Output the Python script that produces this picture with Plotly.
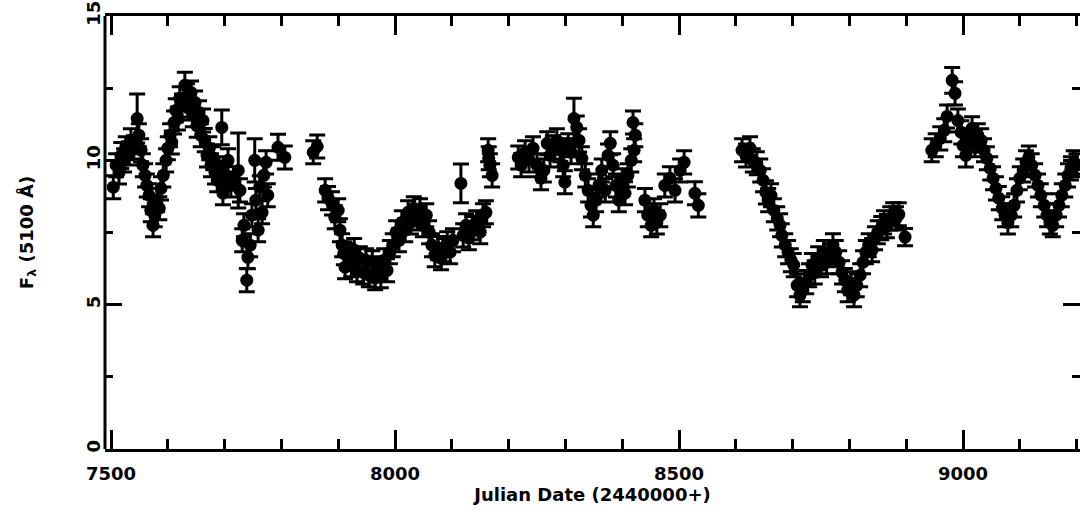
import plotly.graph_objects as go

# Season 1 (JD - 2440000)
jd_1 = [7504, 7509, 7514, 7518, 7523, 7526, 7532, 7535, 7540, 7546,
        7549, 7553, 7556, 7560, 7563, 7567, 7570, 7574, 7577, 7581,
        7585, 7588, 7592, 7597, 7600, 7604, 7607, 7611, 7614, 7618,
        7621, 7625, 7630, 7634, 7637, 7641, 7644, 7648, 7651, 7655,
        7658, 7662, 7665, 7669, 7673, 7676, 7680, 7683, 7687, 7690,
        7695, 7697, 7701, 7706, 7711, 7717, 7724, 7727, 7731, 7734,
        7739, 7741, 7745, 7748, 7753, 7755, 7759, 7762, 7766, 7769,
        7773, 7776, 7794, 7806]
flux_1 = [9.07, 9.83, 9.58, 10.17, 10.00, 10.42, 10.24, 10.69, 10.45, 11.45,
          10.87, 10.35, 9.83, 9.48, 9.13, 8.79, 8.27, 7.75, 8.10, 8.62,
          8.34, 9.03, 9.48, 10.00, 10.42, 10.87, 10.62, 11.31, 11.73, 11.45,
          12.15, 11.90, 12.60, 12.25, 11.80, 12.35, 11.56, 12.00, 11.20, 11.66,
          10.87, 11.38, 10.70, 10.17, 10.42, 9.83, 10.07, 9.58, 9.31, 9.72,
          11.14, 8.86, 9.48, 10.00, 9.13, 9.38, 9.65, 8.96, 7.23, 7.75,
          5.85, 6.64, 7.06, 8.10, 10.00, 8.62, 7.58, 9.07, 8.20, 9.48,
          9.93, 8.79, 10.45, 10.10]
err_1 = [0.40, 0.40, 0.40, 0.45, 0.40, 0.40, 0.40, 0.40, 0.40, 0.85,
         0.40, 0.40, 0.40, 0.40, 0.40, 0.40, 0.40, 0.40, 0.40, 0.40,
         0.40, 0.40, 0.40, 0.40, 0.40, 0.40, 0.40, 0.40, 0.40, 0.40,
         0.40, 0.40, 0.45, 0.40, 0.40, 0.40, 0.40, 0.40, 0.40, 0.40,
         0.40, 0.40, 0.40, 0.40, 0.40, 0.40, 0.40, 0.40, 0.40, 0.40,
         0.60, 0.40, 0.40, 0.40, 0.40, 0.40, 1.30, 0.40, 0.40, 0.40,
         0.40, 0.40, 0.40, 0.40, 0.75, 0.40, 0.40, 0.40, 0.40, 0.40,
         0.40, 0.40, 0.45, 0.40]

# Season 2
jd_2 = [7856, 7863, 7877, 7882, 7889, 7894, 7900, 7903, 7907, 7910,
        7912, 7917, 7923, 7928, 7933, 7938, 7944, 7949, 7954, 7960,
        7965, 7970, 7975, 7981, 7986, 7991, 7996, 8002, 8007, 8012,
        8018, 8023, 8028, 8033, 8039, 8044, 8049, 8055, 8060, 8065,
        8070, 8076, 8081, 8086, 8092, 8097, 8102, 8116, 8120, 8125,
        8130, 8136, 8143, 8150, 8155, 8160, 8164, 8165, 8167, 8171]
flux_2 = [10.28, 10.48, 8.96, 8.69, 8.51, 8.03, 8.27, 7.58, 7.06, 6.78,
          6.30, 6.71, 6.37, 6.89, 6.19, 6.61, 6.12, 6.54, 6.02, 6.47,
          5.92, 6.26, 5.99, 6.54, 6.19, 6.82, 7.06, 7.51, 7.23, 7.85,
          7.58, 8.20, 7.85, 8.34, 7.99, 8.27, 7.75, 8.10, 7.51, 7.06,
          6.71, 6.96, 6.61, 6.89, 7.13, 6.82, 7.23, 9.20, 7.40, 7.75,
          7.30, 7.65, 7.85, 7.51, 8.10, 8.20, 10.35, 10.07, 9.83, 9.48]
err_2 = [0.40, 0.40, 0.40, 0.40, 0.40, 0.40, 0.40, 0.40, 0.40, 0.40,
         0.40, 0.40, 0.40, 0.40, 0.40, 0.40, 0.40, 0.40, 0.40, 0.40,
         0.40, 0.40, 0.40, 0.40, 0.40, 0.40, 0.40, 0.40, 0.40, 0.40,
         0.40, 0.40, 0.40, 0.40, 0.40, 0.40, 0.40, 0.40, 0.40, 0.40,
         0.40, 0.40, 0.40, 0.40, 0.40, 0.40, 0.40, 0.67, 0.40, 0.40,
         0.40, 0.40, 0.40, 0.40, 0.40, 0.40, 0.40, 0.40, 0.40, 0.40]

# Season 3
jd_3 = [8217, 8222, 8229, 8236, 8243, 8250, 8257, 8262, 8268, 8273,
        8278, 8285, 8291, 8296, 8299, 8305, 8310, 8315, 8320, 8324,
        8329, 8335, 8340, 8345, 8349, 8354, 8359, 8364, 8370, 8375,
        8379, 8384, 8389, 8394, 8400, 8405, 8410, 8416, 8419, 8421,
        8423, 8440, 8445, 8451, 8456, 8461, 8467, 8475, 8484, 8493,
        8502, 8509, 8528, 8534]
flux_3 = [10.10, 9.83, 10.28, 10.00, 10.42, 9.83, 9.38, 9.65, 10.59, 10.17,
          10.45, 10.69, 10.35, 9.83, 9.24, 10.52, 10.28, 11.45, 11.14, 10.69,
          10.07, 9.48, 8.96, 8.44, 8.10, 8.62, 9.13, 9.65, 8.96, 10.17,
          10.59, 9.83, 9.13, 8.62, 9.31, 8.86, 9.48, 10.00, 11.31, 10.35,
          10.87, 8.62, 8.10, 7.75, 8.27, 7.85, 8.10, 9.13, 9.38, 8.96,
          9.65, 9.93, 8.86, 8.44]
err_3 = [0.40, 0.40, 0.40, 0.40, 0.40, 0.40, 0.40, 0.40, 0.40, 0.40,
         0.40, 0.40, 0.40, 0.40, 0.40, 0.40, 0.40, 0.70, 0.40, 0.40,
         0.40, 0.40, 0.40, 0.40, 0.40, 0.40, 0.40, 0.40, 0.40, 0.40,
         0.40, 0.40, 0.40, 0.40, 0.40, 0.40, 0.40, 0.40, 0.40, 0.40,
         0.40, 0.40, 0.40, 0.40, 0.40, 0.40, 0.40, 0.40, 0.40, 0.40,
         0.40, 0.40, 0.40, 0.40]

# Season 4
jd_4 = [8611, 8618, 8625, 8630, 8637, 8643, 8648, 8653, 8657, 8662,
        8667, 8673, 8678, 8681, 8687, 8692, 8697, 8702, 8708, 8713,
        8718, 8724, 8729, 8734, 8739, 8745, 8750, 8755, 8760, 8766,
        8771, 8776, 8782, 8787, 8792, 8797, 8803, 8808, 8813, 8819,
        8824, 8829, 8834, 8840, 8845, 8850, 8856, 8861, 8866, 8872,
        8877, 8882, 8887, 8898]
flux_4 = [10.35, 10.17, 10.42, 10.00, 9.90, 9.65, 9.31, 8.89, 8.62, 8.79,
          8.27, 7.99, 7.75, 7.40, 7.06, 6.82, 6.54, 6.37, 5.67, 5.33,
          5.50, 5.78, 6.02, 6.37, 6.12, 6.61, 6.37, 6.82, 6.47, 6.71,
          7.06, 6.82, 6.47, 6.12, 5.85, 5.50, 5.74, 5.33, 5.67, 6.02,
          6.47, 6.82, 7.06, 6.89, 7.30, 7.51, 7.65, 7.85, 7.72, 7.99,
          8.13, 7.99, 8.13, 7.34]
err_4 = [0.40, 0.40, 0.40, 0.40, 0.40, 0.40, 0.40, 0.40, 0.40, 0.40,
         0.40, 0.40, 0.40, 0.40, 0.40, 0.40, 0.40, 0.40, 0.40, 0.40,
         0.40, 0.40, 0.40, 0.40, 0.40, 0.40, 0.40, 0.40, 0.40, 0.40,
         0.40, 0.40, 0.40, 0.40, 0.40, 0.40, 0.40, 0.40, 0.40, 0.40,
         0.40, 0.40, 0.40, 0.40, 0.40, 0.40, 0.40, 0.40, 0.40, 0.40,
         0.40, 0.40, 0.40, 0.30]

# Season 5
jd_5 = [8945, 8952, 8960, 8967, 8972, 8981, 8986, 8991, 8997, 9000,
        9005, 9011, 9016, 9021, 9026, 9032, 9037, 9042, 9048, 9053,
        9058, 9063, 9069, 9074, 9079, 9085, 9090, 9095, 9100, 9106,
        9111, 9116, 9121, 9127, 9132, 9137, 9143, 9148, 9153, 9158,
        9164, 9169, 9174, 9180, 9185, 9190, 9195, 9200]
flux_5 = [10.35, 10.52, 10.76, 11.04, 11.52, 12.77, 12.32, 11.38, 10.97, 10.52,
          10.17, 10.69, 11.11, 10.52, 10.87, 10.69, 10.35, 10.07, 9.72, 9.38,
          9.03, 8.69, 8.34, 8.10, 7.85, 8.10, 8.44, 8.96, 9.38, 9.65,
          9.93, 10.10, 9.83, 9.48, 9.13, 8.79, 8.44, 8.10, 7.85, 7.75,
          8.10, 8.44, 8.79, 9.13, 9.48, 9.72, 9.93, 9.83]
err_5 = [0.40, 0.40, 0.40, 0.40, 0.40, 0.45, 0.40, 0.40, 0.40, 0.40,
         0.40, 0.40, 0.40, 0.40, 0.40, 0.40, 0.40, 0.40, 0.40, 0.40,
         0.40, 0.40, 0.40, 0.40, 0.40, 0.40, 0.40, 0.40, 0.40, 0.40,
         0.40, 0.40, 0.40, 0.40, 0.40, 0.40, 0.40, 0.40, 0.40, 0.40,
         0.40, 0.40, 0.40, 0.40, 0.40, 0.40, 0.40, 0.40]

x_ticks = [7500, 8000, 8500, 9000]
y_ticks = [0, 5, 10, 15]

jd = jd_1 + jd_2 + jd_3 + jd_4 + jd_5
flux = flux_1 + flux_2 + flux_3 + flux_4 + flux_5
err = err_1 + err_2 + err_3 + err_4 + err_5
assert len(jd) == len(flux) == len(err)

FONT = dict(family="DejaVu Sans", size=18, color="black", weight="bold")

fig = go.Figure()
fig.add_trace(go.Scatter(
    x=jd, y=flux, mode="markers",
    marker=dict(size=13, color="black", line=dict(width=0)),
    error_y=dict(type="data", array=err, color="black", thickness=3, width=8),
    showlegend=False, hoverinfo="x+y",
))

fig.update_layout(
    width=1080, height=519,
    margin=dict(l=105, r=0, t=16, b=70),
    paper_bgcolor="white", plot_bgcolor="white",
    font=FONT,
    xaxis=dict(
        range=[7489.4, 9206], tickmode="array", tickvals=x_ticks,
        ticktext=[str(v) for v in x_ticks],
        ticks="inside", ticklen=19, tickwidth=2.5, tickcolor="black",
        minor=dict(dtick=100, tick0=7500, ticks="inside", ticklen=10,
                   tickwidth=2.5, tickcolor="black"),
        showline=True, linewidth=3, linecolor="black", mirror="ticks",
        showgrid=False, zeroline=False, tickfont=FONT,
        ticklabelstandoff=6,
        title=dict(text="Julian Date (2440000+)", font=FONT, standoff=6),
    ),
    yaxis=dict(
        range=[0, 15], tickmode="array", tickvals=y_ticks,
        ticktext=[str(v) for v in y_ticks],
        ticks="inside", ticklen=17, tickwidth=2.5, tickcolor="black",
        minor=dict(dtick=2.5, tick0=0, ticks="inside", ticklen=8,
                   tickwidth=2.5, tickcolor="black"),
        showline=False, mirror="ticks",
        showgrid=False, zeroline=False, tickfont=FONT, tickangle=-90,
        title=dict(text="F<sub>λ</sub> (5100 Å)", font=FONT, standoff=45),
    ),
    shapes=[dict(type="line", xref="paper", yref="paper", x0=0, x1=0, y0=0, y1=1,
                 line=dict(color="black", width=3))],
)

fig.write_html("out.html")
